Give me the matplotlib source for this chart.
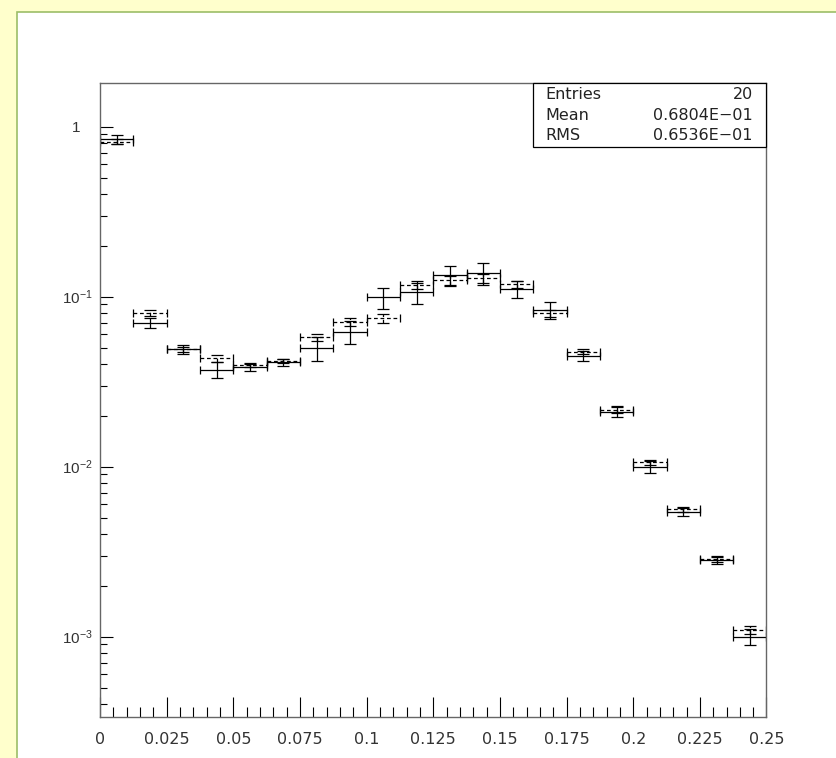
"""
ROOT-style histogram comparison: two overlaid 20-bin histograms on a log y axis.
"""

import numpy as np
import matplotlib
matplotlib.use("Agg")
import matplotlib.pyplot as plt
from matplotlib.patches import Rectangle
from matplotlib.ticker import FixedLocator, FuncFormatter, LogLocator, MultipleLocator

plt.rcParams["font.family"] = ["Liberation Sans", "DejaVu Sans"]
plt.rcParams["mathtext.fontset"] = "custom"
plt.rcParams["mathtext.rm"] = "Liberation Sans"
plt.rcParams["mathtext.it"] = "Liberation Sans:italic"

# Binning: 20 bins from 0 to 0.25
bin_edges = np.linspace(0.0, 0.25, 21)

# Solid histogram (bin contents and errors)
solid_vals = [0.843, 0.070, 0.0492, 0.0371, 0.0384, 0.0411, 0.0497, 0.0622,
              0.0991, 0.106, 0.134, 0.137, 0.111, 0.0835, 0.0448, 0.0211,
              0.0100, 0.00544, 0.00283, 0.00100]
solid_errs = [0.055, 0.0045, 0.003, 0.004, 0.002, 0.002, 0.008, 0.0095,
              0.014, 0.015, 0.018, 0.020, 0.013, 0.010, 0.003, 0.0016,
              0.0008, 0.0003, 0.00016, 0.00011]

# Dashed histogram
dashed_vals = [0.816, 0.080, 0.049, 0.0434, 0.0397, 0.0419, 0.0577, 0.0713,
               0.0746, 0.117, 0.125, 0.128, 0.118, 0.080, 0.0475, 0.0216,
               0.0106, 0.00562, 0.00285, 0.00110]
dashed_errs = [0.03, 0.003, 0.0015, 0.002, 0.0012, 0.0012, 0.003, 0.004,
               0.005, 0.006, 0.008, 0.008, 0.006, 0.004, 0.0015, 0.0008,
               0.0004, 0.0002, 0.0001, 0.00006]

# Stats box
stat_names = ["Entries", "Mean", "RMS"]
stat_values = ["20", "0.6804E\u221201", "0.6536E\u221201"]

x_ticks = [0, 0.025, 0.05, 0.075, 0.1, 0.125, 0.15, 0.175, 0.2, 0.225, 0.25]
x_ticklabels = ["0", "0.025", "0.05", "0.075", "0.1", "0.125", "0.15",
                "0.175", "0.2", "0.225", "0.25"]

W, H = 837, 758
fig = plt.figure(figsize=(W / 100, H / 100), dpi=100, facecolor="#FFFFCC")

# white pad with green border
pad = Rectangle((17.5 / W, -0.02), 1.1, 1 - 11.7 / H + 0.02,
                transform=fig.transFigure, facecolor="white",
                edgecolor="#9CBD68", linewidth=1.2, zorder=-1)
fig.add_artist(pad)

ax = fig.add_axes([100 / W, (H - 717) / H, 666.5 / W, 634.3 / H])
ax.set_facecolor("white")
ax.set_yscale("log")
ax.set_xlim(0, 0.25)
ax.set_ylim(10 ** -3.4724, 10 ** 0.2588)

centers = 0.5 * (bin_edges[:-1] + bin_edges[1:])
half = 0.5 * np.diff(bin_edges)


def draw_hist(vals, errs, dashed):
    ls = (0, (3.0, 2.2)) if dashed else "-"
    ex = ax.errorbar(centers, vals, xerr=half, fmt="none", ecolor="black",
                     elinewidth=0.9, capsize=3.2, capthick=0.9)
    ey = ax.errorbar(centers, vals, yerr=errs, fmt="none", ecolor="black",
                     elinewidth=0.9, capsize=4.3, capthick=0.9)
    for c in (ex, ey):
        for lc in c.lines[2]:
            lc.set_linestyle(ls)


draw_hist(dashed_vals, dashed_errs, True)
draw_hist(solid_vals, solid_errs, False)

# axes frame
for sp in ax.spines.values():
    sp.set_color("#666666")
    sp.set_linewidth(1.0)

# x ticks
ax.xaxis.set_major_locator(FixedLocator(x_ticks))
ax.set_xticklabels(x_ticklabels, family=["DejaVu Sans"])
ax.xaxis.set_minor_locator(MultipleLocator(0.005))
ax.tick_params(axis="x", which="major", direction="in", length=14.4,
               width=0.8, pad=11, labelsize=11.5, labelcolor="#333333")
ax.tick_params(axis="x", which="minor", direction="in", length=6.9, width=0.8)

# y ticks
ax.yaxis.set_major_locator(LogLocator(base=10, numticks=10))
ax.yaxis.set_minor_locator(LogLocator(base=10, subs=np.arange(2, 10), numticks=20))


def log_fmt(v, pos):
    e = int(round(np.log10(v)))
    if e == 0:
        return "1   "
    return r"$10^{%d}$" % e


ax.yaxis.set_major_formatter(FuncFormatter(log_fmt))
ax.yaxis.set_minor_formatter(FuncFormatter(lambda v, p: ""))
ax.tick_params(axis="y", which="major", direction="in", length=9.6,
               width=0.8, pad=5, labelsize=11, labelcolor="#333333")
ax.tick_params(axis="y", which="minor", direction="in", length=4.8, width=0.8)

# stats box (top right)
bx0 = (533 - 100) / 666.5
by0 = (717 - 146.7) / 634.3
box = Rectangle((bx0, by0), 1 - bx0, 1 - by0, transform=ax.transAxes,
                facecolor="white", edgecolor="black", linewidth=0.9,
                zorder=5, clip_on=False)
ax.add_patch(box)
row_y = [94.5, 115, 135.5]
for name, val, ry in zip(stat_names, stat_values, row_y):
    ty = (717 - ry) / 634.3
    ax.text((545 - 100) / 666.5, ty, name, transform=ax.transAxes,
            ha="left", va="center", fontsize=11.5, color="#222222",
            family=["DejaVu Sans"], zorder=6)
    ax.text((753 - 100) / 666.5, ty, val, transform=ax.transAxes,
            ha="right", va="center", fontsize=11.5, color="#222222",
            family=["DejaVu Sans"], zorder=6)

plt.savefig("out.png", dpi=100, facecolor=fig.get_facecolor())
